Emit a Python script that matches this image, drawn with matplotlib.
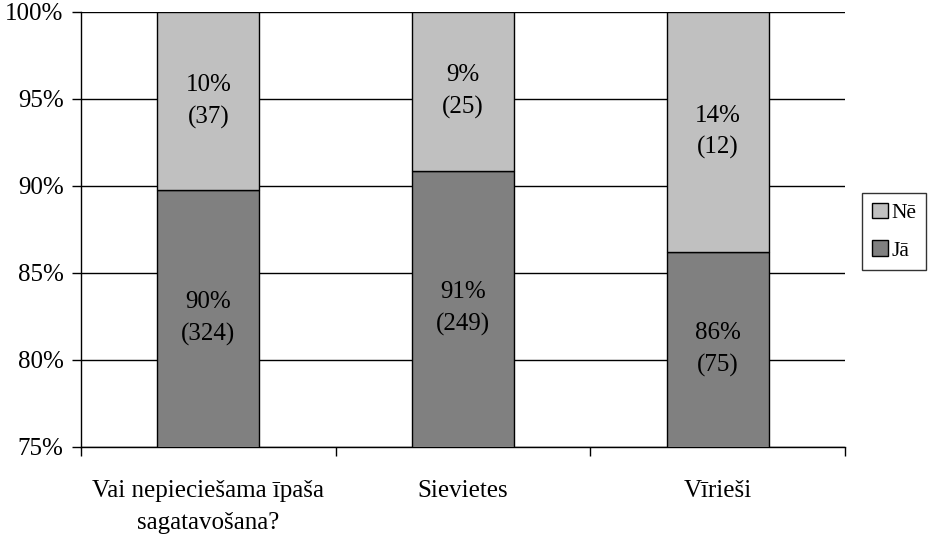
import matplotlib.pyplot as plt
from matplotlib.patches import Patch

plt.rcParams["font.family"] = ["Liberation Serif", "DejaVu Serif"]

categories = ["Vai nepieciešama īpaša\nsagatavošana?", "Sievietes", "Vīrieši"]
ja_counts = [324, 249, 75]
ne_counts = [37, 25, 12]
ja_pct_labels = ["90%", "91%", "86%"]
ne_pct_labels = ["10%", "9%", "14%"]

ja_color = "#808080"
ne_color = "#c0c0c0"

totals = [a + b for a, b in zip(ja_counts, ne_counts)]
ja_share = [100 * a / t for a, t in zip(ja_counts, totals)]
ne_share = [100 * b / t for b, t in zip(ne_counts, totals)]

fig = plt.figure(figsize=(9.3, 5.39), dpi=100)
ax = fig.add_axes([81 / 930, (539 - 447) / 539, (845 - 81) / 930, (447 - 12) / 539])

x = list(range(len(categories)))
ax.bar(x, ja_share, width=0.4, color=ja_color, edgecolor="black", linewidth=1, zorder=3)
ax.bar(x, ne_share, width=0.4, bottom=ja_share, color=ne_color,
       edgecolor="black", linewidth=1, zorder=3)

# labels in the middle of the visible part of each segment
for i in x:
    ax.text(i, (75 + ja_share[i]) / 2, f"{ja_pct_labels[i]}\n({ja_counts[i]})",
            ha="center", va="center", fontsize=18, linespacing=1.55, zorder=4)
    ax.text(i, ja_share[i] + ne_share[i] / 2, f"{ne_pct_labels[i]}\n({ne_counts[i]})",
            ha="center", va="center", fontsize=18, linespacing=1.55, zorder=4)

ax.set_xlim(-0.5, 2.5)
ax.set_ylim(75, 100)
ax.set_yticks([75, 80, 85, 90, 95, 100])
ax.set_yticklabels([f"{v}%" for v in [75, 80, 85, 90, 95, 100]], fontsize=18)
ax.yaxis.grid(True, color="black", linewidth=1, zorder=0)

ax.set_xticks([-0.5, 0.5, 1.5, 2.5])
ax.set_xticklabels([])
ax.set_xticks(x, minor=True)
ax.set_xticklabels(categories, minor=True, fontsize=18, linespacing=1.55)
ax.tick_params(axis="x", which="minor", length=0, pad=24)
ax.tick_params(axis="x", which="major", length=6.5, direction="out", width=1)
ax.tick_params(axis="y", length=6.5, direction="out", width=1, pad=6)

for side in ["top", "right"]:
    ax.spines[side].set_visible(False)
for side in ["left", "bottom"]:
    ax.spines[side].set_linewidth(1)

handles = [Patch(facecolor=ne_color, edgecolor="black", label="Nē"),
           Patch(facecolor=ja_color, edgecolor="black", label="Jā")]
fig.legend(handles=handles, loc="upper left", bbox_to_anchor=(862 / 930, 1 - 193 / 539),
           frameon=True, fancybox=False, edgecolor="black", fontsize=15.5,
           handlelength=0.75, handleheight=0.75, handletextpad=0.15,
           borderpad=0.45, labelspacing=0.8, borderaxespad=0)

fig.savefig("out.png", dpi=100)
